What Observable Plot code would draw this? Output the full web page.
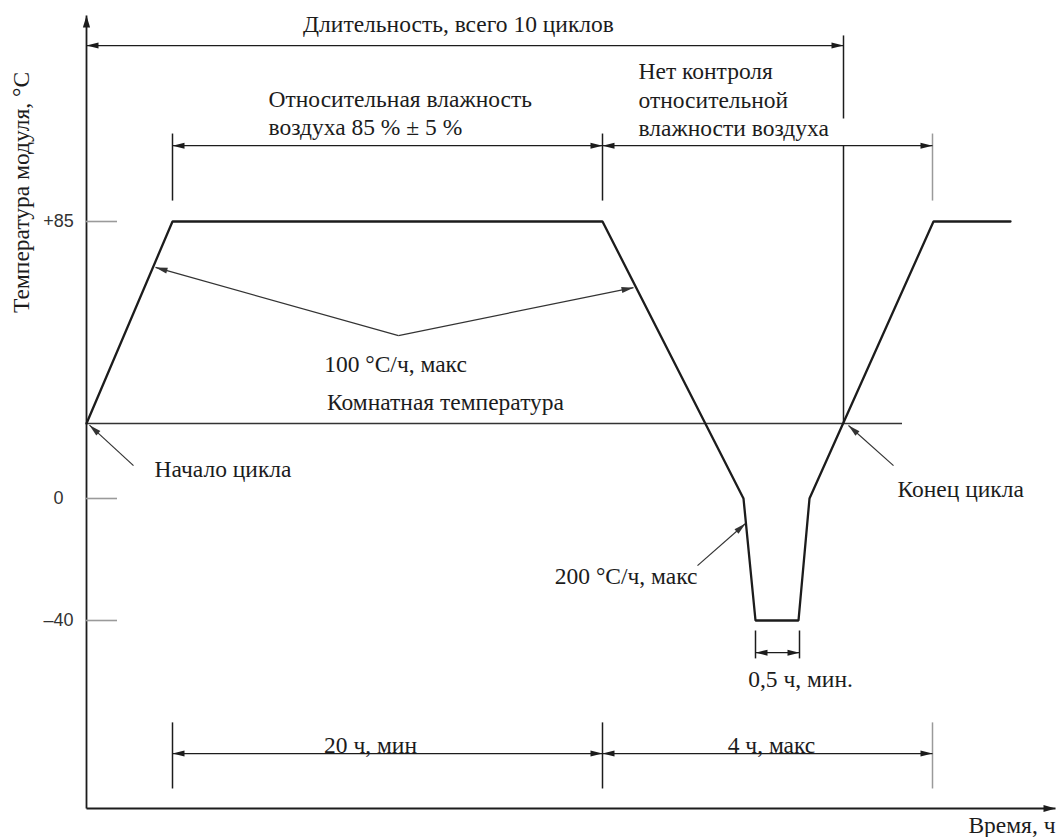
<!DOCTYPE html>
<html>
<head>
<meta charset="utf-8">
<script src="https://cdn.jsdelivr.net/npm/d3@7"></script>
<script src="https://cdn.jsdelivr.net/npm/@observablehq/plot@0.6"></script>
<style>
  html, body { margin: 0; padding: 0; background: #fff; }
  #chart svg { display: block; }
</style>
</head>
<body>
<div id="chart"></div>
<script>
// ---- Data (schematic time units, temperature in °C) ----
const profileTime = [0, 8.6, 51.6, 65.7, 66.9, 71.2, 72.3, 84.7, 92.4];
const profileTemp = [23, 85, 85, 0, -40, -40, 0, 85, 85];
const roomTemp = 23;
const roomLineEnd = 81.6;
const cycleEndTime = 75.7;

const tickValues = [85, 0, -40];
const tickLabels = ["+85", "0", "–40"];

const xDomain = [0, 96.9];
const yDomain = [-102, -40, 0, 85, 148];

// dimension lines with arrows on both ends: [t1, t2, level]
const dimensions = [
  [0, 75.7, 138.8],
  [8.6, 51.6, 108.2],
  [51.6, 84.6, 108.2],
  [8.6, 51.6, -83.9],
  [51.6, 84.6, -83.9],
  [66.9, 71.3, -50.6]
];
// extension lines: [t, T1, T2, grey?]
const extensions = [
  [8.6, 111.9, 91.4, 0], [51.6, 111.9, 91.4, 0], [84.6, 111.9, 91.4, 1],
  [8.6, -73.6, -95.4, 0], [51.6, -73.6, -95.4, 0], [84.6, -73.6, -95.4, 1],
  [66.9, -43.3, -52.5, 0], [71.3, -43.3, -52.5, 0],
  [cycleEndTime, 141.9, 116.5, 0], [cycleEndTime, 108.2, roomTemp, 0]
];
// leader arrows: [t1, T1, t2, T2] (head at the second point)
const leaders = [
  [31.2, 50.0, 6.9, 70.9],
  [31.2, 50.0, 54.7, 64.7],
  [4.7, 10.1, 0.3, 22.5],
  [80.7, 10.1, 76.2, 22.4],
  [61.1, -22.0, 65.9, -8.2]
];
// annotations: [text, t, T, anchor]
const notes = [
  ["Длительность, всего 10 циклов", 37.2, 145.6, "middle"],
  ["Относительная влажность\nвоздуха 85 % ± 5 %", 18.2, 118.6, "start"],
  ["Нет контроля\nотносительной\nвлажности воздуха", 55.2, 122.6, "start"],
  ["100 °С/ч, макс", 30.9, 41.7, "middle"],
  ["Комнатная температура", 35.9, 29.8, "middle"],
  ["Начало цикла", 6.8, 9.5, "start"],
  ["Конец цикла", 81.1, 3.1, "start"],
  ["200 °С/ч, макс", 61.1, -25.2, "end"],
  ["0,5 ч, мин.", 71.4, -59.1, "middle"],
  ["20 ч, мин", 28.4, -80.6, "middle"],
  ["4 ч, макс", 68.5, -80.6, "middle"],
  ["Время, ч", 96.9, -107.0, "end"]
];
const yLabel = ["Температура модуля, °С", -6.5, 93.9];

// ---- filled arrowhead markers ----
function head(orient, len, half) {
  return (color) => d3.create("svg:marker")
    .attr("viewBox", `${-len} ${-half} ${len} ${2 * half}`)
    .attr("refX", 0).attr("refY", 0)
    .attr("markerWidth", len).attr("markerHeight", 2 * half)
    .attr("markerUnits", "userSpaceOnUse")
    .attr("orient", orient)
    .attr("overflow", "visible")
    .attr("fill", color).attr("stroke", "none")
    .call(m => m.append("path").attr("d", `M0,0L${-len},${-half}L${-len},${half}Z`))
    .node();
}
const headEnd = head("auto", 12, 3);
const headStart = head("auto-start-reverse", 12, 3);
const axisHead = head("auto", 12, 3.6);

const profile = profileTime.map((t, i) => ({t, T: profileTemp[i]}));
const dims = dimensions.map(([t1, t2, T]) => ({t1, t2, T}));
const exts = extensions.map(([t, T1, T2, g]) => ({t, T1, T2, g}));
const leads = leaders.map(([t1, T1, t2, T2]) => ({t1, T1, t2, T2}));
const noteData = notes.map(([text, t, T, anchor]) => ({text, t, T, anchor}));

const ink = "#1c1c1c";
const serif = "'Liberation Serif', 'DejaVu Serif', serif";
const fs = 23.5;

const noteMark = (anchor) => Plot.text(noteData.filter((d) => d.anchor === anchor), {
  x: "t", y: "T", text: "text", textAnchor: anchor,
  lineAnchor: "middle", lineHeight: 1.2, fill: ink, fontSize: fs
});

const chart = Plot.plot({
  width: 1056,
  height: 837,
  marginLeft: 86,
  marginRight: 1,
  marginTop: 15,
  marginBottom: 29,
  style: {fontFamily: serif, fontSize: fs + "px", color: ink, background: "#fff", overflow: "visible"},
  x: {type: "linear", domain: xDomain, range: [86, 1055], axis: null},
  y: {type: "linear", domain: yDomain, range: [808, 620, 498, 221, 15], axis: null},
  marks: [
    // axes
    Plot.link([{}], {x1: 0, x2: 0, y1: yDomain[0], y2: yDomain[yDomain.length - 1],
      stroke: ink, strokeWidth: 1.8, markerEnd: axisHead}),
    Plot.link([{}], {x1: 0, x2: xDomain[1], y1: yDomain[0], y2: yDomain[0],
      stroke: ink, strokeWidth: 1.8, markerEnd: axisHead}),
    Plot.ruleY(tickValues, {x1: 0, x2: 3.1, stroke: "#9a9a9a", strokeWidth: 1.6}),
    Plot.axisY({
      ticks: tickValues, tickSize: 0, tickPadding: 28, textAnchor: "middle",
      tickFormat: (d) => tickLabels[tickValues.indexOf(d)],
      fontFamily: "'Liberation Sans', Arial, sans-serif", fontSize: 18, fill: "#333",
      label: null
    }),
    // room temperature
    Plot.ruleY([roomTemp], {x1: 0, x2: roomLineEnd, stroke: "#333", strokeWidth: 1.6}),
    // extension lines
    Plot.link(exts, {x1: "t", x2: "t", y1: "T1", y2: "T2",
      stroke: (d) => d.g ? "#9a9a9a" : ink, strokeWidth: 1.5}),
    // dimension lines
    Plot.link(dims, {x1: "t1", x2: "t2", y1: "T", y2: "T",
      stroke: ink, strokeWidth: 1.3, markerStart: headStart, markerEnd: headEnd}),
    // leader arrows
    Plot.link(leads, {x1: "t1", y1: "T1", x2: "t2", y2: "T2",
      stroke: "#333", strokeWidth: 1.2, markerEnd: headEnd}),
    // temperature profile
    Plot.line(profile, {x: "t", y: "T", stroke: ink, strokeWidth: 2.3, strokeLinejoin: "miter"}),
    // annotations
    noteMark("start"),
    noteMark("middle"),
    noteMark("end"),
    Plot.text([yLabel], {x: (d) => d[1], y: (d) => d[2], text: (d) => d[0],
      rotate: -90, fill: ink, fontSize: fs, lineAnchor: "middle"})
  ]
});

document.getElementById("chart").appendChild(chart);
</script>
</body>
</html>
